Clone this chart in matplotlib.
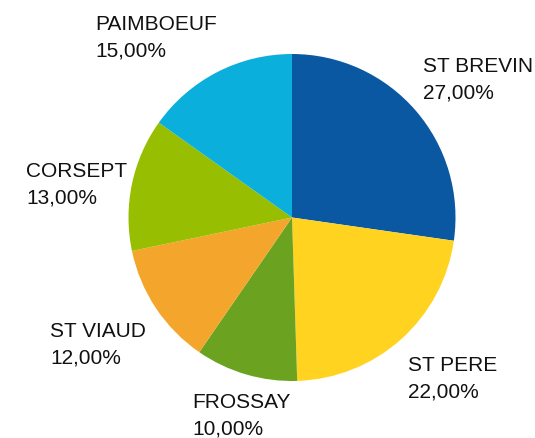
import matplotlib
matplotlib.use("Agg")
import matplotlib.pyplot as plt

# Donnees
communes = ["ST BREVIN", "ST PERE", "FROSSAY", "ST VIAUD", "CORSEPT", "PAIMBOEUF"]
parts = [27, 22, 10, 12, 13, 15]
couleurs = ["#0A58A1", "#FFD320", "#6BA321", "#F4A52B", "#97BE00", "#0BAFDB"]

# Position des etiquettes (pixels: gauche, ligne de base du nom)
pos_labels = [(423, 72), (408, 371), (192, 408), (50, 337), (26, 177), (95, 30)]

W, H = 535, 439
cx, cy, R = 292, 218.5, 163.5

plt.rcParams['font.family'] = ['Liberation Sans', 'DejaVu Sans']

fig = plt.figure(figsize=(W / 100, H / 100), dpi=100)
ax = fig.add_axes([0, 0, 1, 1])
ax.pie(parts, colors=couleurs, startangle=90, counterclock=False,
       radius=1, wedgeprops=dict(linewidth=0))
ax.set_xlim(-cx / R, (W - cx) / R)
ax.set_ylim(-(H - cy) / R, cy / R)
ax.axis('off')

for nom, val, (px, py) in zip(communes, parts, pos_labels):
    fig.text(px / W, 1 - py / H, nom, fontsize=15, color="#111111",
             ha='left', va='baseline')
    pct = f"{val:.2f}".replace('.', ',') + "%"
    fig.text(px / W, 1 - (py + 26.5) / H, pct, fontsize=15, color="#111111",
             ha='left', va='baseline')

fig.savefig("out.png", dpi=100, facecolor="white")
